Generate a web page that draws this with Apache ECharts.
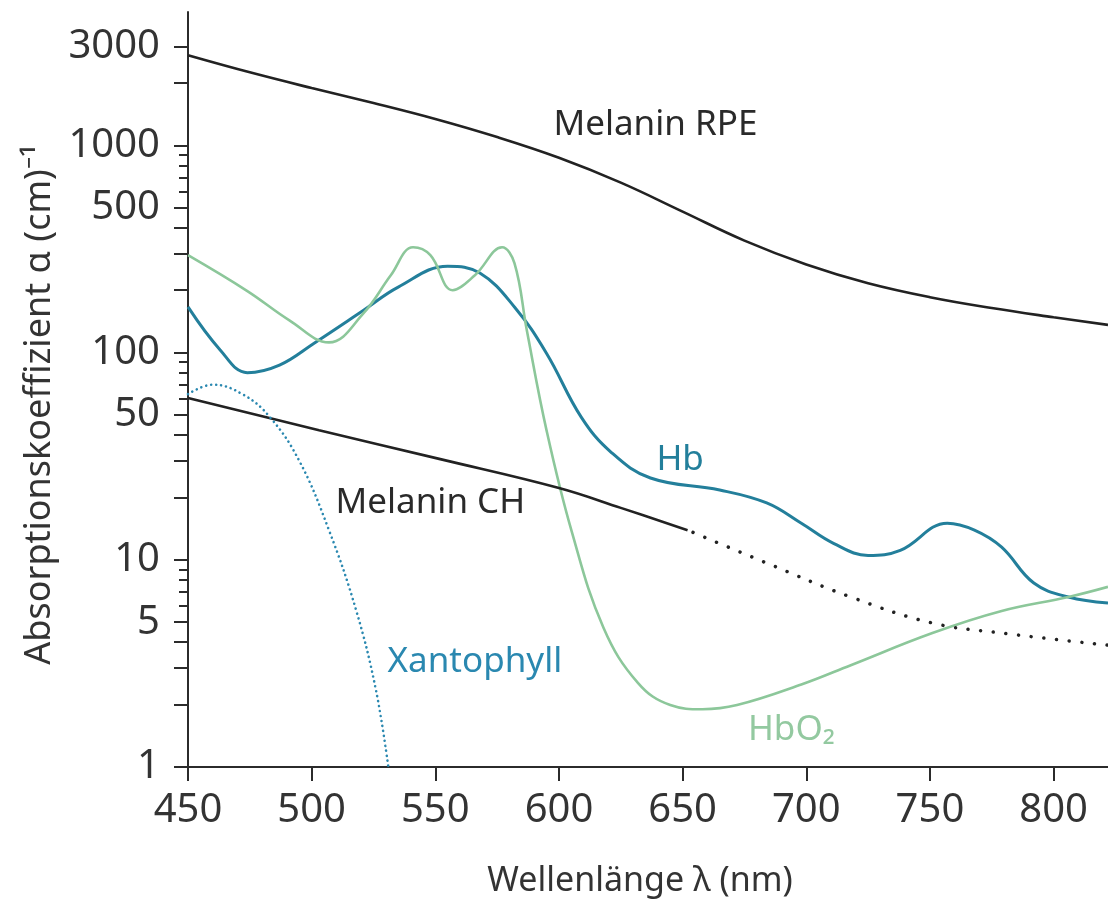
<!DOCTYPE html>
<html>
<head>
<meta charset="utf-8">
<script src="https://cdn.jsdelivr.net/npm/echarts@6.0.0/dist/echarts.min.js"></script>
<style>
html, body { margin: 0; padding: 0; background: #fff; }
#main { width: 1108px; height: 904px; }
</style>
</head>
<body>
<div id="main"></div>
<script>
// Melanin RPE
var rpeX = [450, 475, 500, 525, 550, 575, 600, 625, 650, 675, 700, 725, 750, 775, 800, 822];
var rpeY = [2720, 2250, 1890, 1600, 1340, 1096, 871, 661, 479, 347, 266, 216, 185, 164, 148, 136];
// Hb
var hbX = [450, 463, 474, 487, 501, 521, 535, 555, 568, 582, 595, 609, 621, 637, 665, 684, 698, 711, 725, 738, 757, 768, 779, 792, 806, 822];
var hbY = [166, 103, 80, 87, 111, 160, 207, 261, 242, 166, 99, 48.8, 33.1, 24.8, 21.7, 18.8, 15.0, 12.0, 10.5, 11.1, 15.0, 13.9, 11.5, 7.72, 6.61, 6.18];
// HbO2
var hbo2X = [450, 474, 491, 507, 521, 532, 541, 548, 557, 566, 577, 582, 587, 595, 605, 618, 632, 645, 658, 672, 698, 718, 751, 779, 806, 822];
var hbo2Y = [295, 198, 143, 112, 155, 236, 322, 295, 200, 236, 322, 270, 128, 42, 13.9, 4.7, 2.54, 1.99, 1.90, 1.99, 2.5, 3.1, 4.43, 5.66, 6.61, 7.40];
// Melanin CH (gemessen / extrapoliert)
var chX = [450, 503, 552, 600, 625, 652];
var chY = [60.3, 42.2, 30.6, 22.2, 17.8, 13.9];
var chDotX = [652, 684, 718, 751, 779, 822];
var chDotY = [13.9, 9.64, 6.61, 4.95, 4.43, 3.87];
// Xantophyll
var xanX = [450, 460, 472, 483, 495, 507, 518, 526, 531];
var xanY = [63, 70, 63, 49, 30, 13.9, 5.7, 2.35, 1.0];

// Achsen
var xTicks = [450, 500, 550, 600, 650, 700, 750, 800];
var yLabels = [1, 5, 10, 50, 100, 500, 1000, 3000];
var yTicksLong = [1, 2, 3, 4, 5, 10, 20, 30, 40, 50, 100, 200, 300, 400, 500, 1000, 2000, 3000];
var yTicksShort = [6, 7, 8, 9, 60, 70, 80, 90, 600, 700, 800, 900];

function pairs(xs, ys) {
	var out = [];
	for (var i = 0; i < xs.length; i++) {
		out.push([xs[i], ys[i]]);
	}
	return out;
}

var font = 'Noto Sans';
var axisColor = '#2b2b2b';

function textMark(text, coord, color) {
	return {
		symbol: 'circle',
		symbolSize: 0,
		silent: true,
		animation: false,
		label: {
			show: true,
			position: 'inside',
			formatter: text,
			fontFamily: font,
			fontSize: 35,
			color: color
		},
		data: [{ coord: coord }]
	};
}

var myChart = echarts.init(document.getElementById('main'));
var option = {
	animation: false,
	backgroundColor: '#fff',
	grid: { left: 188, right: 0, top: 12, bottom: 137 },
	xAxis: {
		type: 'value',
		min: 450,
		max: 822,
		name: 'Wellenlänge λ (nm)',
		nameLocation: 'middle',
		nameGap: 97,
		nameTextStyle: { fontFamily: font, fontSize: 34, color: '#333', padding: [0, 16, 0, 0] },
		axisLine: { show: true, lineStyle: { color: axisColor, width: 2 } },
		axisTick: { show: true, length: 14, lineStyle: { color: axisColor, width: 2 }, customValues: xTicks },
		axisLabel: { customValues: xTicks, fontFamily: font, fontSize: 40, color: '#333', margin: 24 },
		splitLine: { show: false }
	},
	yAxis: [
		{
			type: 'log',
			logBase: 10,
			min: 1,
			max: 4400,
			position: 'left',
			name: 'Absorptionskoeffizient α (cm)⁻¹',
			nameLocation: 'middle',
			nameRotate: 90,
			nameGap: 130,
			nameTextStyle: { fontFamily: font, fontSize: 36, color: '#333', padding: [0, 30, 0, 0] },
			axisLine: { show: true, lineStyle: { color: axisColor, width: 2 } },
			axisTick: { show: true, length: 14, lineStyle: { color: axisColor, width: 2 }, customValues: yTicksLong },
			axisLabel: {
				customValues: yLabels,
				fontFamily: font,
				fontSize: 40,
				color: '#333',
				margin: 28,
				formatter: function (v) { return String(Math.round(v)); }
			},
			splitLine: { show: false }
		},
		{
			// kurze Zwischenstriche
			type: 'log',
			logBase: 10,
			min: 1,
			max: 4400,
			position: 'left',
			axisLine: { show: false },
			axisTick: { show: true, length: 9, lineStyle: { color: axisColor, width: 2 }, customValues: yTicksShort },
			axisLabel: { show: false },
			splitLine: { show: false }
		}
	],
	series: [
		{
			name: 'Melanin RPE',
			type: 'line',
			data: pairs(rpeX, rpeY),
			smooth: 0.4,
			symbol: 'none',
			lineStyle: { color: '#222', width: 2.6 },
			markPoint: textMark('Melanin RPE', [639, 1250], '#2a2a2a')
		},
		{
			name: 'Hb',
			type: 'line',
			data: pairs(hbX, hbY),
			smooth: 0.4,
			symbol: 'none',
			lineStyle: { color: '#237f9b', width: 3 },
			markPoint: textMark('Hb', [649, 30.3], '#237f9b')
		},
		{
			name: 'HbO2',
			type: 'line',
			data: pairs(hbo2X, hbo2Y),
			smooth: 0.4,
			symbol: 'none',
			lineStyle: { color: '#8cc79a', width: 2.6 },
			markPoint: textMark('HbO₂', [694, 1.51], '#93c9a0')
		},
		{
			name: 'Melanin CH',
			type: 'line',
			data: pairs(chX, chY),
			smooth: 0.4,
			symbol: 'none',
			lineStyle: { color: '#222', width: 2.6 },
			markPoint: textMark('Melanin CH', [548, 18.8], '#2a2a2a')
		},
		{
			name: 'Melanin CH extrapoliert',
			type: 'line',
			data: pairs(chDotX, chDotY),
			smooth: 0.4,
			symbol: 'none',
			lineStyle: { color: '#222', width: 3.5, type: [0.01, 12.7], dashOffset: -6, cap: 'round' }
		},
		{
			name: 'Xantophyll',
			type: 'line',
			data: pairs(xanX, xanY),
			smooth: 0.4,
			symbol: 'none',
			lineStyle: { color: '#2a88b0', width: 2.6, type: [0.01, 5], cap: 'round' },
			markPoint: textMark('Xantophyll', [566, 3.21], '#2a88b0')
		}
	]
};
myChart.setOption(option);
</script>
</body>
</html>
